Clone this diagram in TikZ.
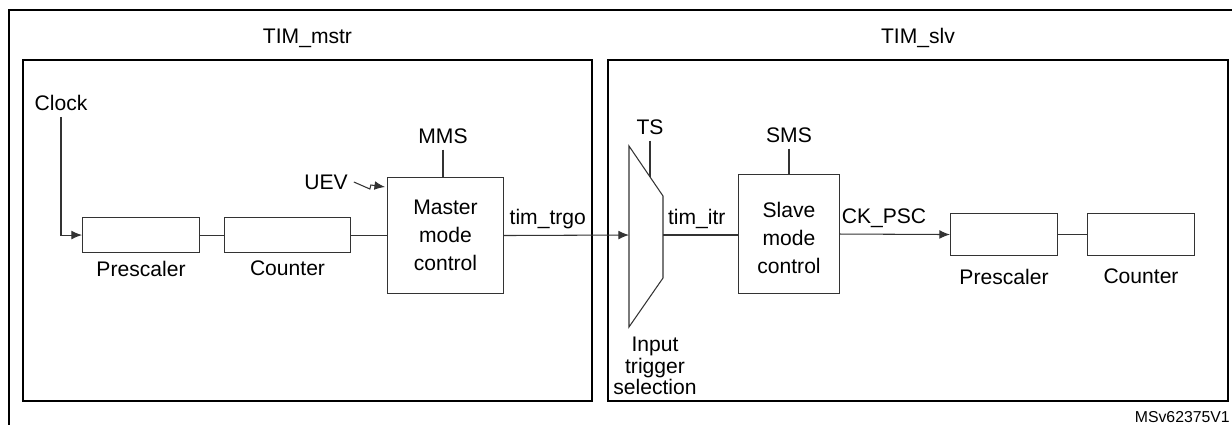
\documentclass[tikz,border=0pt]{standalone}
\usepackage{fontspec}
\setmainfont{Liberation Sans}
\usetikzlibrary{positioning,shapes,arrows,arrows.meta,calc}

\tikzset{
	blk/.style={rectangle,draw=black!80,line width=0.6pt,inner sep=0pt,anchor=north west},
	lbl/.style={inner sep=0pt},
	wire/.style={draw=black!80,line width=0.6pt},
	frm/.style={draw=black,line width=1pt},
	tip/.style={-{Latex[length=6pt,width=5pt]}}
}

\begin{document}
\begin{tikzpicture}[x=0.02cm,y=-0.02cm,font=\fontsize{12}{16}\selectfont]
	\clip (0,0) rectangle (1232,424);
	% marcos
	\draw[line width=1.4pt] (9,440) -- (9,10) -- (1250,10);
	\draw[frm] (23,60) rectangle (592,401);
	\draw[frm] (608,60) rectangle (1228,401);
	\node (mstr) at (307.5,38) {TIM\_mstr};
	\node (slv) at (918,38) {TIM\_slv};

	% timer maestro
	\node[blk,minimum width=2.34cm,minimum height=0.7cm] (pre1) at (82,217) {};
	\node[blk,minimum width=2.52cm,minimum height=0.7cm] (cnt1) at (224,217) {};
	\node[blk,minimum width=2.32cm,minimum height=2.32cm] (mst) at (387,177) {};
	\node[align=center] at (mst.center) {Master\\mode\\control};
	\node[lbl,below=0.15cm of pre1] {Prescaler};
	\node[lbl,below=0.15cm of cnt1] {Counter};
	\node (clk) at (61,103) {Clock};
	\node (mms) at (443,136) {MMS};
	\node (uev) at (326,182) {UEV};

	\draw[wire,tip] (clk.south) |- (pre1.west);
	\draw[wire] (pre1) -- (cnt1);
	\draw[wire] (cnt1) -- (cnt1 -| mst.west);
	\draw[wire] (mms.south) -- (mms.south |- mst.north);
	\draw[wire,tip] (uev.east) -- ++(16,7) -- ++(1,-4) -- (385,187);

	% multiplexor
	\coordinate (m1) at (629,146);
	\coordinate (m2) at (663,196);
	\coordinate (m3) at (663,278);
	\coordinate (m4) at (629,327);
	\coordinate (muxin) at (629,235);
	\coordinate (muxout) at (663,235);
	\coordinate (tsin) at (650,177);
	\draw[wire] (m1) -- (m2) -- (m3) -- (m4) -- cycle;
	\node (ts) at (650,127) {TS};
	\node[align=center,font=\fontsize{12}{10.5}\selectfont] (its) at (655,366) {Input\\trigger\\selection};
	\draw[wire] (ts.south) -- (tsin);
	\draw[wire,tip] (mst.east) -- node[pos=0.35,above] {tim\_trgo} (muxin);

	% timer esclavo
	\node[blk,minimum width=2.02cm,minimum height=2.38cm] (slc) at (738,174) {};
	\node[align=center] at ($(slc.center)+(0,4)$) {Slave\\mode\\control};
	\node[blk,minimum width=2.14cm,minimum height=0.84cm] (pre2) at (950,213) {};
	\node[blk,minimum width=2.14cm,minimum height=0.84cm] (cnt2) at (1087,213) {};
	\node[lbl,below=0.25cm of pre2] {Prescaler};
	\node[lbl,below=0.25cm of cnt2] {Counter};
	\node (sms) at (789,135) {SMS};

	\draw[wire] (muxout) -- node[pos=0.45,above] {tim\_itr} (muxout -| slc.west);
	\draw[wire] (sms.south) -- (sms.south |- slc.north);
	\draw[wire,tip] (slc.east) -- node[pos=0.4,above] {CK\_PSC} (pre2.west);
	\draw[wire] (pre2) -- (cnt2);

	\node[anchor=east,font=\fontsize{9}{10}\selectfont] (ref) at (1236,417) {MSv62375V1};
\end{tikzpicture}
\end{document}
